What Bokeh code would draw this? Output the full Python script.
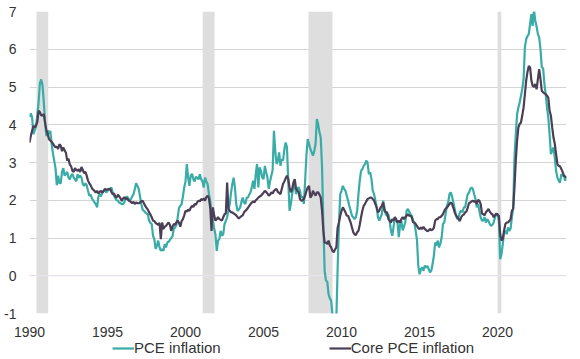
from bokeh.plotting import figure
from bokeh.layouts import column
from bokeh.models import (Range1d, BoxAnnotation, Legend, LegendItem, FixedTicker,
                          Span, ColumnDataSource)
from bokeh.embed import file_html
from bokeh.resources import INLINE

START_YEAR = 1990  # first monthly observation: January 1990

# PCE inflation, % y/y, monthly (Jan 1990 - Jun 2024)
pce = [
    4.20, 4.30, 4.20, 3.75, 3.85, 3.95, 4.25, 4.60, 5.10, 5.20, 5.05, 4.60,  # 1990
    4.05, 3.70, 3.85, 3.75, 3.84, 3.50, 3.25, 3.05, 2.85, 2.40, 2.65, 2.45,  # 1991
    2.45, 2.75, 2.85, 2.65, 2.70, 2.75, 2.60, 2.55, 2.65, 2.70, 2.60, 2.55,  # 1992
    2.50, 2.69, 2.60, 2.65, 2.60, 2.43, 2.38, 2.45, 2.40, 2.25, 2.12, 2.15,  # 1993
    2.05, 2.00, 1.94, 1.90, 1.81, 2.10, 2.16, 2.10, 2.21, 2.25, 2.30, 2.20,  # 1994
    2.25, 2.30, 2.28, 2.34, 2.20, 2.12, 2.05, 2.00, 1.99, 1.94, 1.92, 1.90,  # 1995
    1.90, 1.95, 2.07, 2.10, 2.05, 2.00, 2.03, 2.10, 2.16, 2.30, 2.45, 2.38,  # 1996
    2.30, 2.10, 1.90, 1.75, 1.72, 1.68, 1.65, 1.63, 1.46, 1.40, 1.37, 1.06,  # 1997
    0.97, 0.71, 0.80, 0.93, 0.75, 0.66, 0.70, 0.66, 0.84, 0.75, 0.88, 0.90,  # 1998
    0.95, 1.00, 1.05, 1.25, 1.28, 1.35, 1.55, 1.80, 1.85, 1.90, 2.10, 2.34,  # 1999
    2.50, 2.96, 2.60, 2.38, 2.65, 2.70, 2.56, 2.50, 2.62, 2.60, 2.55, 2.69,  # 2000
    2.56, 2.50, 2.34, 2.60, 2.50, 2.43, 2.16, 1.99, 1.70, 1.46, 1.25, 1.10,  # 2001
    0.66, 0.93, 0.97, 1.19, 1.06, 1.10, 1.37, 1.45, 1.55, 1.75, 1.90, 2.20,  # 2002
    2.43, 2.60, 2.34, 1.90, 1.72, 1.75, 1.81, 1.95, 2.07, 1.94, 1.90, 2.07,  # 2003
    2.07, 2.15, 2.21, 2.35, 2.52, 2.30, 2.69, 2.96, 2.34, 2.87, 2.78, 2.60,  # 2004
    2.56, 2.91, 2.75, 2.60, 2.30, 2.50, 2.65, 2.80, 3.84, 3.31, 2.96, 3.05,  # 2005
    3.27, 2.91, 3.09, 3.05, 3.35, 3.53, 3.40, 2.52, 1.72, 1.90, 2.16, 2.34,  # 2006
    2.43, 2.16, 2.30, 2.35, 2.25, 2.07, 2.10, 1.90, 2.52, 3.20, 3.62, 3.49,  # 2007
    3.36, 3.27, 3.18, 3.30, 3.49, 4.15, 4.02, 3.80, 3.66, 2.87, 1.37, 0.13,  # 2008
    -0.13, -0.15, -0.49, -0.60, -0.66, -1.02, -1.30, -1.25, -1.10, 0.22, 1.37, 2.16,  # 2009
    2.25, 2.38, 2.30, 2.25, 2.12, 1.99, 1.85, 1.72, 1.59, 1.55, 1.50, 1.55,  # 2010
    1.72, 2.16, 2.52, 2.78, 2.82, 2.91, 2.95, 3.05, 3.00, 2.69, 2.74, 2.56,  # 2011
    2.25, 2.16, 2.00, 1.81, 1.55, 1.46, 1.55, 1.63, 1.99, 1.81, 1.63, 1.59,  # 2012
    1.63, 1.45, 1.19, 1.06, 1.30, 1.55, 1.45, 1.41, 1.02, 1.35, 1.45, 1.20,  # 2013
    1.30, 1.41, 1.72, 1.77, 1.70, 1.63, 1.59, 1.46, 1.40, 1.19, 0.95, 0.27,  # 2014
    0.04, 0.18, 0.22, 0.13, 0.27, 0.22, 0.26, 0.18, 0.09, 0.13, 0.31, 0.53,  # 2015
    0.88, 0.80, 0.93, 0.75, 0.85, 1.02, 1.37, 1.41, 1.63, 1.85, 1.94, 2.16,  # 2016
    2.21, 2.10, 1.94, 1.77, 1.60, 1.50, 1.55, 1.68, 1.72, 1.68, 1.81, 1.81,  # 2017
    1.99, 2.16, 2.20, 2.30, 2.34, 2.30, 2.16, 2.03, 1.81, 1.90, 1.72, 1.55,  # 2018
    1.46, 1.46, 1.55, 1.41, 1.50, 1.45, 1.37, 1.32, 1.35, 1.41, 1.55, 1.63,  # 2019
    1.63, 1.46, 0.44, 0.57, 0.84, 1.15, 1.19, 1.10, 1.28, 1.19, 1.25, 1.55,  # 2020
    1.81, 3.13, 3.75, 4.28, 4.46, 4.59, 4.77, 4.95, 5.21, 6.05, 6.27, 6.35,  # 2021
    6.40, 6.67, 6.93, 6.62, 7.05, 6.75, 6.60, 6.40, 6.31, 6.00, 5.52, 5.50,  # 2022
    5.08, 4.81, 4.46, 4.19, 3.75, 3.22, 3.31, 3.40, 3.13, 2.78, 2.60, 2.52,  # 2023
    2.47, 2.69, 2.65, 2.65, 2.52, 2.60,                                      # 2024
]

# Core PCE inflation, % y/y, monthly (Jan 1990 - Jun 2024)
core = [
    3.53, 3.70, 3.84, 3.97, 3.93, 3.98, 4.07, 4.37, 4.33, 4.25, 4.25, 4.28,  # 1990
    4.05, 3.85, 3.75, 3.62, 3.58, 3.55, 3.50, 3.45, 3.40, 3.42, 3.36, 3.48,  # 1991
    3.45, 3.30, 3.40, 3.32, 3.26, 3.05, 3.10, 2.95, 2.90, 2.78, 2.75, 2.85,  # 1992
    2.80, 2.78, 2.82, 2.75, 2.88, 2.80, 2.72, 2.75, 2.65, 2.52, 2.45, 2.40,  # 1993
    2.32, 2.28, 2.25, 2.20, 2.25, 2.18, 2.22, 2.25, 2.20, 2.24, 2.30, 2.28,  # 1994
    2.28, 2.30, 2.30, 2.22, 2.16, 2.18, 2.10, 2.07, 2.15, 2.10, 2.05, 1.98,  # 1995
    2.05, 2.08, 2.03, 2.06, 2.00, 1.98, 1.95, 1.92, 1.96, 1.90, 1.94, 1.92,  # 1996
    1.92, 1.94, 1.97, 1.99, 1.92, 1.85, 1.80, 1.75, 1.68, 1.62, 1.55, 1.46,  # 1997
    1.45, 1.40, 1.37, 1.35, 1.40, 0.97, 1.41, 1.24, 1.30, 1.32, 1.37, 1.41,  # 1998
    1.35, 1.19, 1.30, 1.37, 1.35, 1.42, 1.46, 1.40, 1.30, 1.45, 1.50, 1.60,  # 1999
    1.72, 1.70, 1.75, 1.72, 1.80, 1.85, 1.82, 1.90, 1.88, 1.95, 1.99, 1.97,  # 2000
    2.03, 2.00, 2.05, 1.99, 2.08, 2.12, 2.05, 1.80, 1.19, 1.81, 1.60, 1.46,  # 2001
    1.50, 1.55, 1.50, 1.48, 1.46, 1.55, 1.63, 1.65, 2.47, 1.77, 1.72, 1.68,  # 2002
    1.68, 1.65, 1.63, 1.60, 1.55, 1.52, 1.55, 1.58, 1.60, 1.68, 1.72, 1.75,  # 2003
    1.80, 1.85, 1.90, 1.94, 1.97, 1.94, 2.00, 2.03, 2.07, 2.10, 2.12, 2.16,  # 2004
    2.20, 2.25, 2.22, 2.18, 2.12, 2.15, 2.21, 2.18, 2.25, 2.28, 2.30, 2.22,  # 2005
    2.20, 2.16, 2.30, 2.43, 2.50, 2.58, 2.65, 2.56, 2.34, 2.21, 2.30, 2.47,  # 2006
    2.56, 2.30, 2.25, 2.21, 2.03, 1.99, 2.00, 2.03, 2.12, 2.25, 2.34, 2.38,  # 2007
    2.07, 2.12, 2.25, 2.18, 2.12, 2.21, 2.21, 2.15, 2.07, 1.72, 1.19, 0.88,  # 2008
    0.88, 0.84, 0.93, 0.80, 0.75, 0.66, 0.62, 0.70, 0.75, 1.28, 1.41, 1.59,  # 2009
    1.72, 1.81, 1.75, 1.68, 1.59, 1.59, 1.50, 1.41, 1.28, 1.15, 1.10, 1.08,  # 2010
    1.15, 1.19, 1.35, 1.55, 1.72, 1.85, 1.90, 1.97, 2.03, 2.05, 2.07, 2.07,  # 2011
    2.03, 1.99, 1.90, 1.81, 1.68, 1.72, 1.81, 1.85, 1.94, 1.72, 1.68, 1.68,  # 2012
    1.50, 1.46, 1.41, 1.50, 1.46, 1.55, 1.50, 1.41, 1.46, 1.41, 1.50, 1.55,  # 2013
    1.50, 1.55, 1.59, 1.63, 1.59, 1.59, 1.55, 1.41, 1.41, 1.37, 1.32, 1.26,  # 2014
    1.24, 1.28, 1.24, 1.30, 1.24, 1.21, 1.18, 1.20, 1.24, 1.21, 1.22, 1.27,  # 2015
    1.46, 1.50, 1.50, 1.55, 1.55, 1.59, 1.63, 1.72, 1.77, 1.81, 1.85, 1.90,  # 2016
    1.94, 1.90, 1.80, 1.68, 1.60, 1.55, 1.50, 1.45, 1.55, 1.60, 1.62, 1.68,  # 2017
    1.70, 1.80, 1.92, 1.94, 1.97, 1.99, 1.95, 1.99, 1.90, 2.01, 1.99, 1.90,  # 2018
    1.65, 1.63, 1.60, 1.68, 1.72, 1.77, 1.70, 1.65, 1.63, 1.55, 1.60, 1.65,  # 2019
    1.62, 1.59, 1.10, 0.93, 0.97, 1.20, 1.37, 1.41, 1.41, 1.45, 1.50, 1.72,  # 2020
    1.77, 2.34, 3.05, 3.58, 3.93, 4.02, 4.06, 4.25, 4.46, 4.81, 5.17, 5.40,  # 2021
    5.56, 5.52, 5.17, 5.03, 5.00, 5.08, 4.94, 5.21, 5.47, 5.21, 4.90, 4.86,  # 2022
    4.83, 4.81, 4.77, 4.72, 4.37, 4.24, 3.93, 3.66, 3.49, 3.22, 2.96, 2.91,  # 2023
    2.90, 2.83, 2.75, 2.65, 2.63, 2.60,                                      # 2024
]

# US recessions (decimal years)
rec_start = [1990.45, 2001.10, 2007.88, 2020.00]
rec_end = [1991.20, 2001.86, 2009.42, 2020.24]

x_ticks = [1990, 1995, 2000, 2005, 2010, 2015, 2020]
y_ticks = [-1, 0, 1, 2, 3, 4, 5, 6, 7]
series_names = ["PCE inflation", "Core PCE inflation"]

TEAL = "#3aaca7"
DARK = "#4b3e57"
TEXT = "#333333"
FONT = "Liberation Sans"

t = [START_YEAR + i / 12 for i in range(len(pce))]
src = ColumnDataSource(dict(t=t, pce=pce, core=core))

p = figure(width=580, height=343,
           x_range=Range1d(t[0], t[-1]), y_range=Range1d(y_ticks[0], y_ticks[-1]),
           output_backend="svg", toolbar_location=None,
           min_border_left=29, min_border_right=14, min_border_top=11, min_border_bottom=30)
p.outline_line_color = None
p.background_fill_color = "white"
p.border_fill_color = "white"

for s, e in zip(rec_start, rec_end):
    p.add_layout(BoxAnnotation(left=s, right=e, fill_color="#dedede", fill_alpha=1.0,
                               line_color=None, level="underlay"))

p.xgrid.visible = False
p.ygrid.ticker = FixedTicker(ticks=y_ticks)
p.ygrid.grid_line_color = "#d4d4d4"
p.ygrid.grid_line_width = 1
p.add_layout(Span(location=0, dimension="width", line_color="#ebe3ee", line_width=1,
                  level="underlay"))

p.line("t", "pce", source=src, line_color=TEAL, line_width=2.2)
p.line("t", "core", source=src, line_color=DARK, line_width=2.2)

p.xaxis.ticker = FixedTicker(ticks=x_ticks)
p.yaxis.ticker = FixedTicker(ticks=y_ticks)
p.yaxis.major_label_overrides = {v: str(v) for v in y_ticks}
for ax in (p.xaxis[0], p.yaxis[0]):
    ax.axis_line_color = None
    ax.major_tick_line_color = None
    ax.minor_tick_line_color = None
    ax.major_tick_out = 0
    ax.major_tick_in = 0
    ax.major_label_text_font = FONT
    ax.major_label_text_font_size = "14px"
    ax.major_label_text_color = TEXT
p.yaxis.major_label_standoff = 13
p.xaxis.major_label_standoff = 13

# legend strip below the chart (same data; the lines themselves fall outside its frame)
lp = figure(width=580, height=20, x_range=Range1d(0, 1), y_range=Range1d(0, 1),
            x_axis_type=None, y_axis_type=None, output_backend="svg",
            toolbar_location=None, min_border=0)
lp.margin = (-4, 0, 0, 0)
lp.outline_line_color = None
lp.background_fill_alpha = 0
lp.border_fill_alpha = 0
lp.grid.visible = False
l1 = lp.line("t", "pce", source=src, line_color=TEAL, line_width=2.2)
l2 = lp.line("t", "core", source=src, line_color=DARK, line_width=2.2)
legend = Legend(items=[LegendItem(label=series_names[0], renderers=[l1]),
                       LegendItem(label=series_names[1], renderers=[l2])],
                orientation="horizontal", location=(83, 3), spacing=108,
                glyph_width=22, glyph_height=16, label_standoff=0, label_height=16,
                padding=0, margin=0, border_line_color=None, background_fill_alpha=0,
                label_text_font=FONT, label_text_font_size="15px", label_text_color=TEXT)
lp.add_layout(legend, "center")

open("out.html", "w").write(file_html(column(p, lp), INLINE))
